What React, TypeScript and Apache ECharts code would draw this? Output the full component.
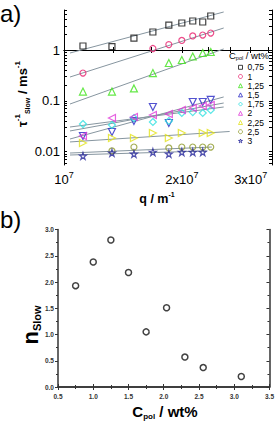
import React, { useEffect, useRef } from 'react';
import * as echarts from 'echarts';

// ---------- Panel a data ----------
// legend names (C_pol / wt%)
const concLabels = ['0,75', '1', '1,25', '1,5', '1,75', '2', '2,25', '2,5', '3'];
// scattering vector columns, in units of 1e7 m^-1
const qValues = [1.118, 1.326, 1.509, 1.687, 1.853, 2.0, 2.133, 2.262, 2.371];
// relaxation rates tau^-1_slow (ms^-1), one array per concentration; null = no point
const rate075 = [1.2, 1.17, 1.72, 2.26, 3.1, 3.4, 3.72, 3.56, 4.67];
const rate100 = [0.352, null, null, 1.07, 1.28, 1.54, 1.89, 1.97, 2.16];
const rate125 = [0.152, 0.152, 0.175, 0.352, 0.555, 0.636, 0.745, 0.873, 0.913];
const rate150 = [0.0203, 0.0243, 0.04, 0.0755, 0.0366, null, 0.0947, 0.0947, 0.104];
const rate175 = [0.0349, 0.0334, 0.0458, 0.0383, 0.04, 0.0575, 0.06, 0.0575, 0.066];
const rate200 = [0.0203, 0.0458, 0.0479, 0.0525, 0.055, 0.066, 0.0722, 0.079, 0.083];
const rate225 = [0.0148, 0.0185, 0.0185, 0.0232, 0.0185, 0.0232, null, 0.0232, 0.0232];
const rate250 = [null, 0.0103, 0.0123, null, 0.0118, 0.0123, 0.0123, 0.0123, 0.0123];
const rate300 = [0.0082, 0.0094, 0.009, 0.0098, 0.009, 0.0098, 0.0098, 0.0098, null];
const rates = [rate075, rate100, rate125, rate150, rate175, rate200, rate225, rate250, rate300];

// power-law fit lines: endpoints (q in 1e7 m^-1, rate in ms^-1)
const fitStartQ = [1.036, 1.036, 1.036, 1.036, 1.036, 1.036, 1.036, 1.036, 1.036];
const fitEndQ = [2.559, 2.559, 2.559, 2.559, 2.559, 2.559, 2.65, 2.386, 2.317];
const fitStartRate = [0.873, 0.294, 0.0865, 0.0177, 0.0305, 0.0255, 0.0155, 0.00938, 0.00857];
const fitEndRate = [5.6, 2.71, 1.05, 0.119, 0.0755, 0.0905, 0.0249, 0.0123, 0.0103];

// axis ticks panel a
const qMajorTicks = [1, 2, 3];
const qAllTicks = [1, 4 / 3, 5 / 3, 2, 7 / 3, 8 / 3, 3, 10 / 3];
const rateMajorTicks = [0.01, 0.1, 1];
const rateMinorFactors = [2, 3, 4, 5, 6, 7, 8, 9];
const qMin = 1;
const qMax = 3.4;
const rateMin = 0.00545;
const rateMax = 6.13;

// ---------- Panel b data ----------
const concB = [0.75, 1.0, 1.25, 1.5, 1.75, 2.04, 2.3, 2.56, 3.1];
const nSlow = [1.93, 2.38, 2.8, 2.18, 1.05, 1.51, 0.57, 0.37, 0.2];

// ---------- styles ----------
const FONT = '"Liberation Sans", Arial, Helvetica, sans-serif';
const STAR = 'path://M50,0 L61,35 L98,35 L68,57 L79,91 L50,70 L21,91 L32,57 L2,35 L39,35 Z';
const symbolShapes = ['rect', 'circle', 'triangle', 'triangle', 'diamond', 'triangle', 'triangle', 'circle', STAR];
const symbolRotations = [0, 0, 0, 180, 0, 90, -90, 0, 0];
const symbolSizes = [6, 6, 7, 7, 7, 7, 7, 6, 7];
const seriesColors = ['#111111', '#e8206e', '#3ee21a', '#2727c4', '#2ee0e0', '#e03ad8', '#e2e21c', '#8f9a2a', '#23239a'];
const FIT_COLOR = '#8796a0';

const lq = (q: number) => Math.log10(q * 1e7);
const lr = (r: number) => Math.log10(r);

export default function App() {
  const ref = useRef<HTMLDivElement>(null);

  useEffect(() => {
    document.body.style.margin = '0';
    if (!ref.current) return;
    const chart = echarts.init(ref.current, undefined, { renderer: 'svg' });

    const rateMinor: number[] = [];
    [0.01, 0.1, 1].forEach((d) => rateMinorFactors.forEach((f) => {
      const v = d * f;
      if (v < rateMax) rateMinor.push(lr(v));
    }));
    rateMinor.push(lr(0.006), lr(0.007), lr(0.008), lr(0.009));
    const rateAll = rateMajorTicks.map(lr).concat(rateMinor);

    const fitSeries = rates.map((_, i) => ({
      type: 'line',
      name: 'fit ' + concLabels[i],
      xAxisIndex: 0,
      yAxisIndex: 0,
      data: [
        [lq(fitStartQ[i]), lr(fitStartRate[i])],
        [lq(fitEndQ[i]), lr(fitEndRate[i])],
      ],
      showSymbol: false,
      symbol: 'none',
      silent: true,
      z: 1,
      lineStyle: { color: FIT_COLOR, width: 1 },
    }));

    const scatterSeries = rates.map((arr, i) => ({
      type: 'scatter',
      name: concLabels[i],
      xAxisIndex: 0,
      yAxisIndex: 0,
      symbol: symbolShapes[i],
      symbolRotate: symbolRotations[i],
      symbolSize: symbolSizes[i],
      z: 3,
      itemStyle: { color: 'rgba(255,255,255,0)', borderColor: seriesColors[i], borderWidth: 1.2 },
      data: arr
        .map((r, j) => (r == null ? null : [lq(qValues[j]), lr(r)]))
        .filter((p) => p !== null),
    }));

    const aLabelStyle = { fontSize: 13, fontFamily: FONT, color: '#000' };

    const option: any = {
      animation: false,
      grid: [
        { left: 64, top: 10, width: 208, height: 155 },
        { left: 58, top: 229.5, width: 213, height: 157.5 },
      ],
      xAxis: [
        {
          type: 'value', gridIndex: 0, position: 'bottom',
          min: lq(qMin), max: lq(qMax),
          axisLine: { lineStyle: { color: '#000', width: 1 } },
          axisTick: { inside: true, length: 3, customValues: qAllTicks.map(lq), lineStyle: { color: '#000' } },
          axisLabel: {
            customValues: qMajorTicks.map(lq),
            margin: 5,
            ...aLabelStyle,
            formatter: (v: number) => {
              const m = Math.round(Math.pow(10, v) / 1e7);
              return m === 1 ? '{b|10}{s|7}' : '{b|' + m + 'x10}{s|7}';
            },
            rich: {
              b: { fontSize: 13, fontFamily: FONT, color: '#000', lineHeight: 16, verticalAlign: 'bottom' },
              s: { fontSize: 9, fontFamily: FONT, color: '#000', lineHeight: 16, verticalAlign: 'top', padding: [0, 0, 6, 0] },
            },
          },
          splitLine: { show: false },
        },
        {
          type: 'value', gridIndex: 0, position: 'top',
          min: lq(qMin), max: lq(qMax),
          axisLine: { lineStyle: { color: '#000', width: 1 } },
          axisTick: { inside: true, length: 3, customValues: qAllTicks.map(lq), lineStyle: { color: '#000' } },
          axisLabel: { show: false },
          splitLine: { show: false },
        },
        {
          type: 'value', gridIndex: 1, position: 'bottom',
          min: 0.5, max: 3.5, interval: 0.5,
          axisLine: { lineStyle: { color: '#333', width: 1.5 } },
          axisTick: { inside: true, length: 3, lineStyle: { color: '#333', width: 1 } },
          minorTick: { show: true, splitNumber: 2, length: 2, lineStyle: { color: '#333' } },
          axisLabel: { fontSize: 6.5, fontWeight: 'bold', fontFamily: FONT, color: '#333', margin: 6, formatter: (v: number) => v.toFixed(1) },
          splitLine: { show: false },
        },
        {
          type: 'value', gridIndex: 1, position: 'top',
          min: 0.5, max: 3.5, interval: 0.5,
          axisLine: { lineStyle: { color: '#333', width: 1.5 } },
          axisTick: { inside: true, length: 3, lineStyle: { color: '#333', width: 1 } },
          minorTick: { show: true, splitNumber: 2, length: 2, lineStyle: { color: '#333' } },
          axisLabel: { show: false },
          splitLine: { show: false },
        },
      ],
      yAxis: [
        {
          type: 'value', gridIndex: 0, position: 'left',
          min: lr(rateMin), max: lr(rateMax),
          axisLine: { show: true, lineStyle: { color: '#000', width: 1 } },
          axisTick: { show: true, inside: true, length: 3, customValues: rateAll, lineStyle: { color: '#000' } },
          axisLabel: {
            customValues: rateMajorTicks.map(lr),
            margin: 4,
            ...aLabelStyle,
            formatter: (v: number) => {
              const p = Math.round(v);
              return p >= 0 ? String(Math.pow(10, p)) : Math.pow(10, p).toFixed(-p);
            },
          },
          splitLine: { show: false },
        },
        {
          type: 'value', gridIndex: 0, position: 'right',
          min: lr(rateMin), max: lr(rateMax),
          axisLine: { show: true, lineStyle: { color: '#000', width: 1 } },
          axisTick: { show: true, inside: true, length: 3, customValues: rateAll, lineStyle: { color: '#000' } },
          axisLabel: { show: false },
          splitLine: { show: false },
        },
        {
          type: 'value', gridIndex: 1, position: 'left',
          min: 0, max: 3, interval: 0.5,
          axisLine: { show: true, lineStyle: { color: '#333', width: 1.5 } },
          axisTick: { show: true, inside: false, length: 3, lineStyle: { color: '#333', width: 1 } },
          minorTick: { show: true, splitNumber: 2, length: 2, lineStyle: { color: '#333' } },
          axisLabel: { fontSize: 6.5, fontWeight: 'bold', fontFamily: FONT, color: '#333', margin: 4, formatter: (v: number) => v.toFixed(1) },
          splitLine: { show: false },
        },
        {
          type: 'value', gridIndex: 1, position: 'right',
          min: 0, max: 3, interval: 0.5,
          axisLine: { show: true, lineStyle: { color: '#333', width: 1.5 } },
          axisTick: { show: true, inside: true, length: 3, lineStyle: { color: '#333', width: 1 } },
          minorTick: { show: true, splitNumber: 2, length: 2, lineStyle: { color: '#333' } },
          axisLabel: { show: false },
          splitLine: { show: false },
        },
      ],
      legend: {
        orient: 'vertical',
        left: 238,
        top: 62.8,
        padding: 0,
        itemWidth: 4,
        itemHeight: 4,
        itemGap: 0.2,
        selectedMode: false,
        data: concLabels,
        itemStyle: { borderWidth: 1 },
        textStyle: { fontSize: 8.5, fontFamily: FONT, color: '#000' },
      },
      graphic: [
        { type: 'text', x: 0, y: 1, style: { text: 'a)', fontSize: 24, fontFamily: FONT, fill: '#000' } },
        { type: 'text', x: 0, y: 207, style: { text: 'b)', fontSize: 24, fontFamily: FONT, fill: '#000' } },
        {
          type: 'text', x: 249, y: 55,
          style: {
            text: '{m|C}{s|pol}{m| / wt%}',
            align: 'center', verticalAlign: 'middle',
            rich: {
              m: { fontSize: 9.5, fontFamily: FONT, fill: '#000', lineHeight: 12, verticalAlign: 'middle' },
              s: { fontSize: 5.5, fontFamily: FONT, fill: '#000', lineHeight: 12, verticalAlign: 'bottom' },
            },
          },
        },
        {
          type: 'text', x: 22, y: 94, rotation: Math.PI / 2,
          style: {
            text: '{m|τ}{p|-1}{s|Slow}{m| / ms}{p|-1}',
            align: 'center', verticalAlign: 'middle',
            rich: {
              m: { fontSize: 13, fontWeight: 'bold', fontFamily: FONT, fill: '#000', lineHeight: 18, verticalAlign: 'middle' },
              p: { fontSize: 8, fontWeight: 'bold', fontFamily: FONT, fill: '#000', lineHeight: 9, verticalAlign: 'top' },
              s: { fontSize: 7, fontWeight: 'bold', fontFamily: FONT, fill: '#000', lineHeight: 9, verticalAlign: 'bottom' },
            },
          },
        },
        {
          type: 'text', x: 157, y: 199,
          style: {
            text: '{m|q / m}{p|-1}',
            align: 'center', verticalAlign: 'middle',
            rich: {
              m: { fontSize: 12.5, fontWeight: 'bold', fontFamily: FONT, fill: '#000', lineHeight: 16, verticalAlign: 'middle' },
              p: { fontSize: 7, fontWeight: 'bold', fontFamily: FONT, fill: '#000', lineHeight: 8, verticalAlign: 'top' },
            },
          },
        },
        {
          type: 'text', x: 30, y: 325, rotation: Math.PI / 2,
          style: {
            text: '{m|n}{s|Slow}',
            align: 'center', verticalAlign: 'middle',
            rich: {
              m: { fontSize: 22, fontWeight: 'bold', fontFamily: FONT, fill: '#000', lineHeight: 24, verticalAlign: 'middle' },
              s: { fontSize: 11, fontWeight: 'bold', fontFamily: FONT, fill: '#000', lineHeight: 12, verticalAlign: 'bottom' },
            },
          },
        },
        {
          type: 'text', x: 165, y: 411,
          style: {
            text: '{m|C}{s|pol}{m| / wt%}',
            align: 'center', verticalAlign: 'middle',
            rich: {
              m: { fontSize: 15, fontWeight: 'bold', fontFamily: FONT, fill: '#000', lineHeight: 18, verticalAlign: 'middle' },
              s: { fontSize: 8, fontWeight: 'bold', fontFamily: FONT, fill: '#000', lineHeight: 9, verticalAlign: 'bottom' },
            },
          },
        },
      ],
      series: [
        ...fitSeries,
        ...scatterSeries,
        {
          type: 'scatter',
          name: 'n_slow',
          xAxisIndex: 2,
          yAxisIndex: 2,
          symbol: 'circle',
          symbolSize: 6,
          itemStyle: { color: 'rgba(255,255,255,0)', borderColor: '#111', borderWidth: 1.5 },
          data: concB.map((c, i) => [c, nSlow[i]]),
        },
      ],
    };

    chart.setOption(option);
    return () => chart.dispose();
  }, []);

  return <div ref={ref} style={{ width: 277, height: 424 }} />;
}
